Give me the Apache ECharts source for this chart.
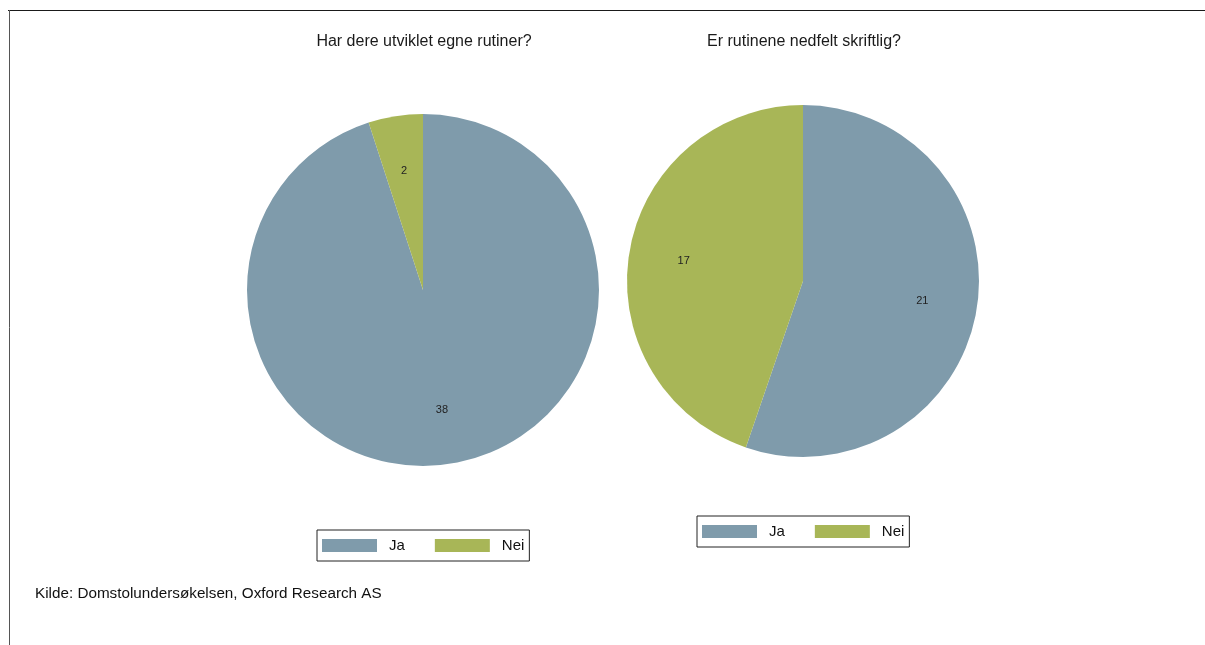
<!DOCTYPE html>
<html><head><meta charset="utf-8">
<script src="https://cdn.jsdelivr.net/npm/echarts@6/dist/echarts.min.js"></script>
<style>html,body{margin:0;padding:0;background:#fff}#c{width:1205px;height:645px}</style>
</head><body><div id="c"></div>
<script>
const categories = ['Ja', 'Nei'];
const titles = ['Har dere utviklet egne rutiner?', 'Er rutinene nedfelt skriftlig?'];
const values1 = [38, 2];
const values2 = [21, 17];
const colors = ['#7f9bab', '#a8b657'];
const source = 'Kilde: Domstolundersøkelsen, Oxford Research AS';

const chart = echarts.init(document.getElementById('c'));
const font = 'Liberation Sans, Arial, sans-serif';
function pieData(vals){ return categories.map((c,i)=>({name:c, value:vals[i]})); }
function pieSeries(vals, center){
  return [
    { type:'pie', center:center, radius:[0,176], startAngle:90, clockwise:true,
      data:pieData(vals), label:{show:false}, labelLine:{show:false},
      itemStyle:{borderWidth:0}, emphasis:{disabled:true}, silent:true, animation:false },
    { type:'pie', center:center, radius:[60,176], startAngle:90, clockwise:true,
      data:pieData(vals), legendHoverLink:false,
      itemStyle:{color:'rgba(0,0,0,0)', borderWidth:0}, silent:true, animation:false,
      label:{show:true, position:'inside', color:'#222', fontSize:11, fontFamily:font, formatter:'{c}'},
      labelLine:{show:false}, emphasis:{disabled:true} }
  ];
}
function legend(left, top){
  return { left:left, top:top, orient:'horizontal', data:categories,
    itemWidth:55, itemHeight:13, itemGap:30, icon:'rect',
    borderColor:'#222', borderWidth:1, padding:[8,5,8,5], selectedMode:false,
    itemStyle:{borderWidth:0},
    textStyle:{fontSize:15, color:'#111', fontFamily:font, padding:[0,0,0,7]} };
}
const s1 = pieSeries(values1, [423,290]);
const s2 = pieSeries(values2, [803,281]);
chart.setOption({
  color: colors,
  animation:false,
  title:[
    {text:titles[0], left:419, top:29, textAlign:'center', textStyle:{fontSize:16, fontWeight:'normal', color:'#1a1a1a', fontFamily:font}},
    {text:titles[1], left:799, top:29, textAlign:'center', textStyle:{fontSize:16, fontWeight:'normal', color:'#1a1a1a', fontFamily:font}}
  ],
  legend:[legend(317,530), legend(697,516)],
  series: s1.concat(s2),
  graphic:[
    {type:'line', shape:{x1:8,y1:10.5,x2:1205,y2:10.5}, style:{stroke:'#1a1a1a', lineWidth:1.2}},
    {type:'line', shape:{x1:9.5,y1:10,x2:9.5,y2:645}, style:{stroke:'#555', lineWidth:1}},
    {type:'text', left:35, top:586, style:{text:source, fontSize:15.25, fill:'#111', fontFamily:font}}
  ]
});
</script></body></html>
